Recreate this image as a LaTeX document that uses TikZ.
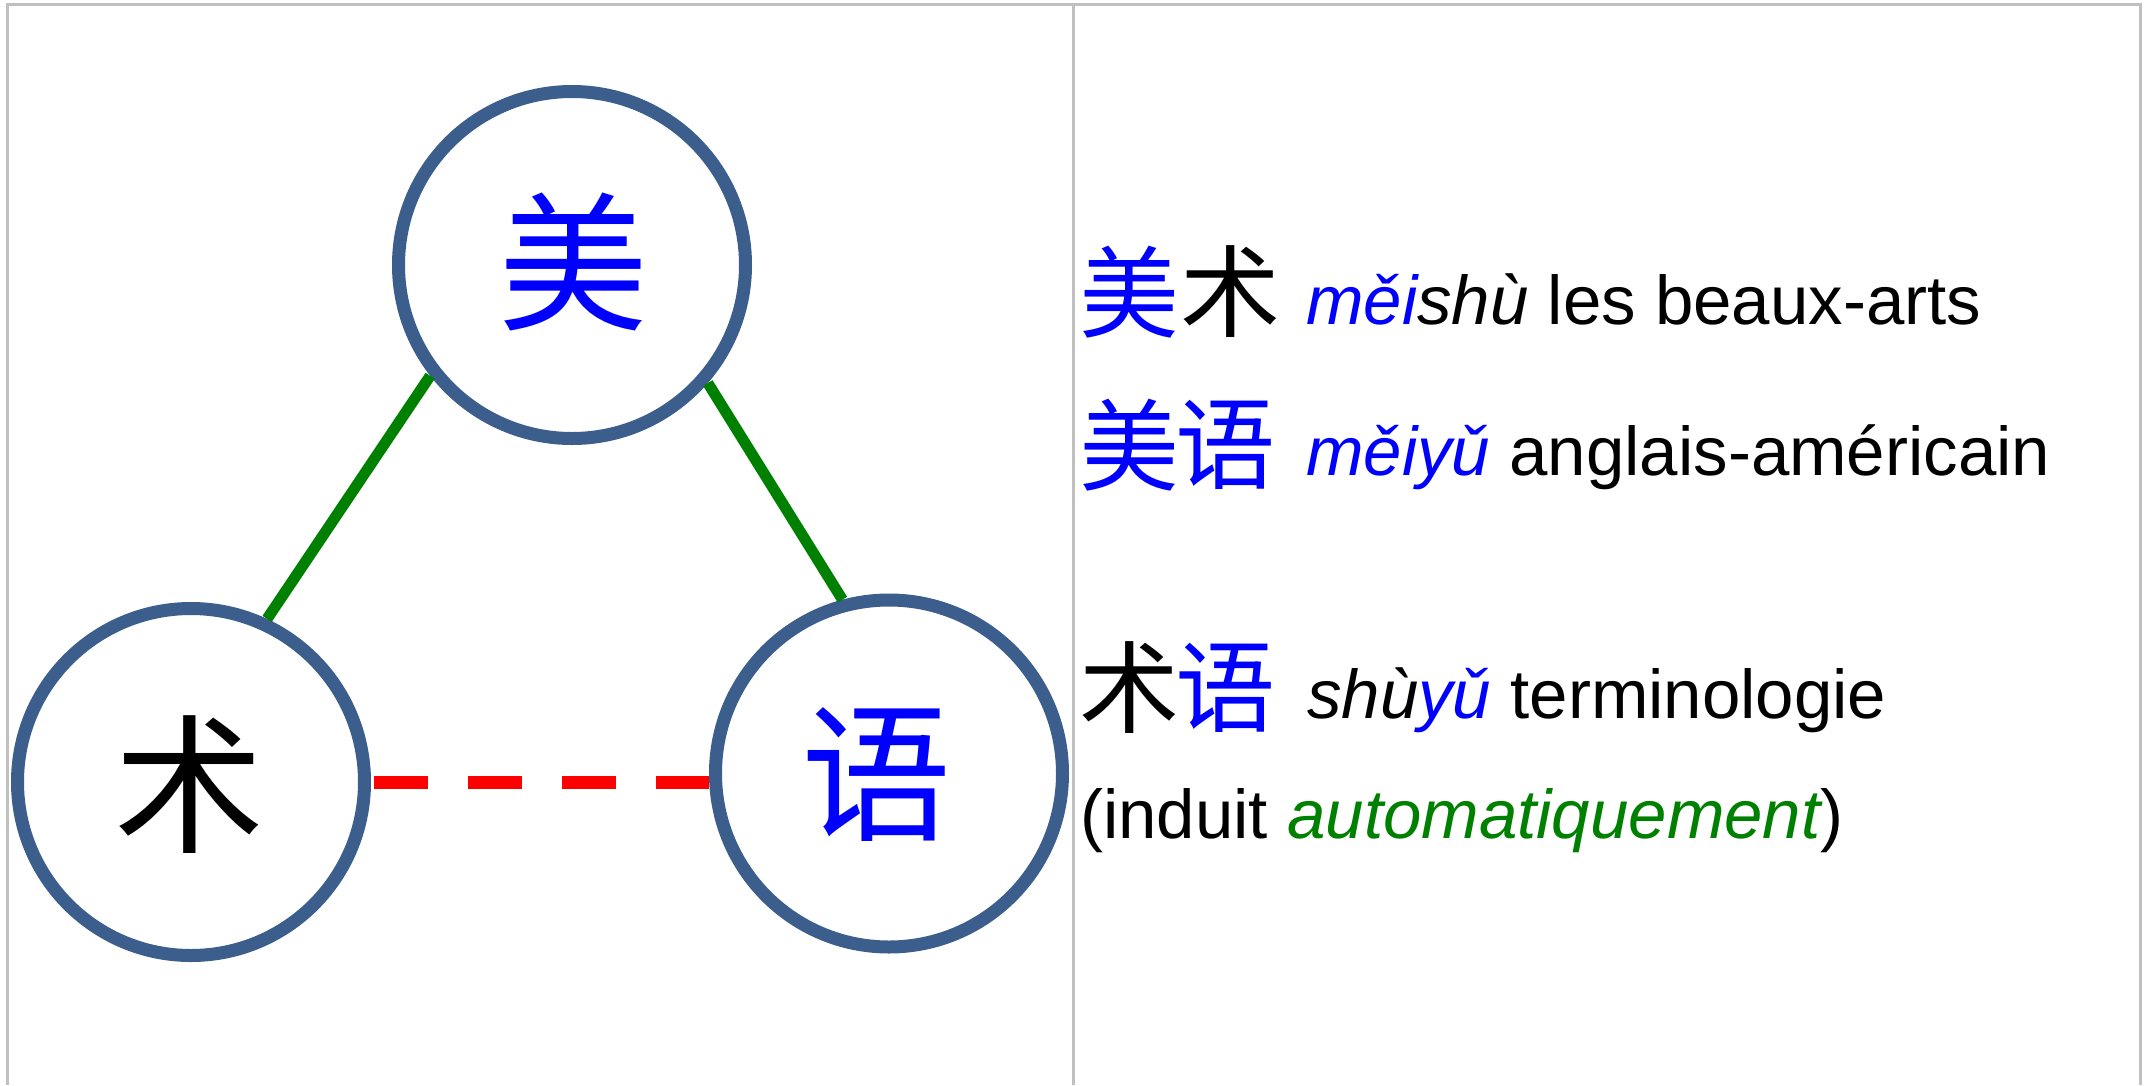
\documentclass[tikz,border=0pt]{standalone}
\usepackage{fontspec}
\setmainfont{Liberation Sans}
\newfontfamily\cjk{Noto Sans CJK SC}
\definecolor{ringblue}{RGB}{59,94,140}
\definecolor{framegray}{RGB}{192,192,192}
\definecolor{linkgreen}{RGB}{0,128,0}
\begin{document}
\begin{tikzpicture}[x=1pt,y=-1pt,
  ring/.style={circle,draw=ringblue,fill=white,line width=13pt,minimum size=347pt,inner sep=0pt,outer sep=6.5pt},
  bigchar/.style={font=\cjk\fontsize{150}{150}\selectfont,inner sep=0pt},
  smallchar/.style={font=\cjk\fontsize{100}{100}\selectfont,inner sep=0pt},
  latin/.style={font=\fontsize{69}{80}\selectfont,anchor=base west,inner sep=0pt},
  frameline/.style={draw=framegray,line width=3pt},
  solidlink/.style={draw=linkgreen,line width=11pt},
  dashlink/.style={draw=red,line width=13pt,dash pattern=on 54pt off 40pt}]
\useasboundingbox (0,0) rectangle (2145,1085);
% frame
\coordinate (tl) at (7.5,4);
\coordinate (tr) at (2140.5,4);
\coordinate (tm) at (1073.5,4);
\coordinate (bl) at (7.5,1085);
\coordinate (br) at (2140.5,1085);
\coordinate (bm) at (1073.5,1085);
\draw[frameline] (bl) -- (tl) -- (tr) -- (br);
\draw[frameline] (tm) -- (bm);
% circles
\node[ring] (mt) at (572,265) {};
\node[ring] (ml) at (191,782) {};
\node[ring] (mr) at (889,773.5) {};
\node[bigchar,text=blue] (ct) at (573,262) {美};
\node[bigchar,text=black] (cl) at (189,785) {术};
\node[bigchar,text=blue] (cr) at (876,775) {语};
% links
\draw[solidlink] (ml.65) -- (mt.218);
\draw[solidlink] (mt.319) -- (mr.105);
\draw[dashlink] ([xshift=3pt]ml.east) -- (ml.east -| mr.west);
% right column
\node[smallchar,text=blue] (a1) at (1129,292) {美};
\node[smallchar,text=black] (a2) at (1230,292) {术};
\node[latin] (t1) at (1306,324) {{\itshape\color{blue}měi}{\itshape shù} les beaux-arts};
\node[smallchar,text=blue] (b1) at (1129,445) {美};
\node[smallchar,text=blue] (b2) at (1225,445) {语};
\node[latin] (t2) at (1306,475) {{\itshape\color{blue}měiyǔ} anglais-américain};
\node[smallchar,text=black] (c1) at (1129,688) {术};
\node[smallchar,text=blue] (c2) at (1225,688) {语};
\node[latin] (t3) at (1307,718) {{\itshape shù}{\itshape\color{blue}yǔ} terminologie};
\node[latin] (t4) at (1080,838) {(induit {\itshape\color{linkgreen}automatiquement})};
\end{tikzpicture}
\end{document}
